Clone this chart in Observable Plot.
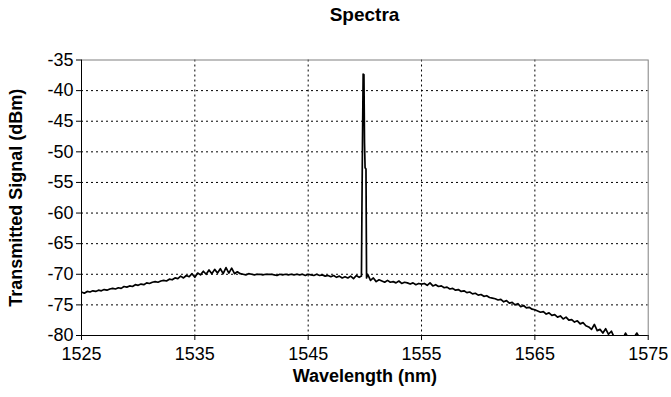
<!DOCTYPE html>
<html>
<head>
<meta charset="utf-8">
<script src="https://cdn.jsdelivr.net/npm/d3@7"></script>
<script src="https://cdn.jsdelivr.net/npm/@observablehq/plot@0.6"></script>
<style>
  html, body { margin: 0; padding: 0; background: white; }
  #title { width: 671px; height: 40px; box-sizing: border-box; padding-left: 81px; padding-right: 23px; padding-top: 5px;
    font: bold 19px "Liberation Sans", Arial, sans-serif; text-align: center; line-height: 20px; color: black; }
  svg g[aria-label="x-axis label"] text, svg g[aria-label="y-axis label"] text { font-weight: bold; }
</style>
</head>
<body>
<div id="title">Spectra</div>
<div id="chart"></div>
<script>
const xTicks = [1525, 1535, 1545, 1555, 1565, 1575];
const yTicks = [-80, -75, -70, -65, -60, -55, -50, -45, -40, -35];

const wavelength = [
  1525.0, 1525.25, 1525.5, 1525.75, 1526.0, 1526.25, 1526.5, 1526.75, 1527.0, 1527.25,
  1527.5, 1527.75, 1528.0, 1528.25, 1528.5, 1528.75, 1529.0, 1529.25, 1529.5, 1529.75,
  1530.0, 1530.25, 1530.5, 1530.75, 1531.0, 1531.25, 1531.5, 1531.75, 1532.0, 1532.25,
  1532.5, 1532.75, 1533.0, 1533.25, 1533.5, 1533.75, 1534.0, 1534.25, 1534.5, 1534.75,
  1535.0, 1535.25, 1535.5, 1535.75, 1536.0, 1536.25, 1536.5, 1536.75, 1537.0, 1537.25,
  1537.5, 1537.75, 1538.0, 1538.25, 1538.5, 1538.75, 1539.0, 1539.25, 1539.5, 1539.75,
  1540.0, 1540.25, 1540.5, 1540.75, 1541.0, 1541.25, 1541.5, 1541.75, 1542.0, 1542.25,
  1542.5, 1542.75, 1543.0, 1543.25, 1543.5, 1543.75, 1544.0, 1544.25, 1544.5, 1544.75,
  1545.0, 1545.25, 1545.5, 1545.75, 1546.0, 1546.25, 1546.5, 1546.75, 1547.0, 1547.25,
  1547.5, 1547.75, 1548.0, 1548.25, 1548.5, 1548.75, 1549.0, 1549.25, 1549.5, 1549.7,
  1549.74, 1549.79, 1549.85, 1549.92, 1549.97, 1550.02, 1550.1, 1550.15,
  1550.25, 1550.5, 1550.75, 1551.0, 1551.25, 1551.5, 1551.75, 1552.0, 1552.25, 1552.5,
  1552.75, 1553.0, 1553.25, 1553.5, 1553.75, 1554.0, 1554.25, 1554.5, 1554.75, 1555.0,
  1555.25, 1555.5, 1555.75, 1556.0, 1556.25, 1556.5, 1556.75, 1557.0, 1557.25, 1557.5,
  1557.75, 1558.0, 1558.25, 1558.5, 1558.75, 1559.0, 1559.25, 1559.5, 1559.75, 1560.0,
  1560.25, 1560.5, 1560.75, 1561.0, 1561.25, 1561.5, 1561.75, 1562.0, 1562.25, 1562.5,
  1562.75, 1563.0, 1563.25, 1563.5, 1563.75, 1564.0, 1564.25, 1564.5, 1564.75, 1565.0,
  1565.25, 1565.5, 1565.75, 1566.0, 1566.25, 1566.5, 1566.75, 1567.0, 1567.25, 1567.5,
  1567.75, 1568.0, 1568.25, 1568.5, 1568.75, 1569.0, 1569.25, 1569.5, 1569.75, 1570.0,
  1570.25, 1570.5, 1570.75, 1571.0, 1571.25, 1571.5, 1571.75, 1572.0, 1572.25, 1572.5,
  1572.75, 1573.0, 1573.25, 1573.5, 1573.75, 1574.0, 1574.25
];

const signal = [
  -72.9, -73.1, -72.8, -72.9, -72.7, -72.8, -72.6, -72.7, -72.5, -72.6,
  -72.4, -72.3, -72.4, -72.2, -72.3, -72.0, -72.1, -71.9, -72.0, -71.7,
  -71.8, -71.6, -71.7, -71.4, -71.5, -71.3, -71.2, -71.3, -71.1, -71.0,
  -71.1, -70.8, -70.9, -70.6, -70.7, -70.3, -70.6, -70.2, -70.4, -69.9,
  -70.5, -69.8, -70.1, -69.5, -70.0, -69.3, -69.9, -69.2, -69.8, -69.1,
  -69.9, -68.9, -69.8, -69.0, -69.9, -69.6, -69.9, -70.0, -70.1, -69.9,
  -70.0, -70.1, -70.0, -70.0, -70.1, -70.0, -70.0, -70.0, -70.1, -70.2,
  -70.0, -70.1, -70.0, -70.1, -70.0, -70.1, -70.0, -70.1, -70.0, -70.2,
  -70.0, -70.1, -70.2, -70.0, -70.2, -70.1, -70.3, -70.2, -70.4, -70.2,
  -70.5, -70.3, -70.6, -70.4, -70.6, -70.3, -70.7, -70.2, -70.5, -70.3,
  -60.1, -48.7, -37.3, -37.4, -48.5, -52.6, -52.8, -70.6,
  -70.0, -71.0, -70.6, -71.2, -70.9, -71.1, -71.3, -71.0, -71.3, -71.2,
  -71.4, -71.1, -71.5, -71.3, -71.4, -71.6, -71.4, -71.7, -71.5, -71.6,
  -71.5, -71.8, -71.4, -71.9, -71.7, -72.0, -71.9, -72.2, -72.1, -72.4,
  -72.3, -72.6, -72.5, -72.8, -72.7, -73.0, -72.9, -73.2, -73.1, -73.4,
  -73.3, -73.6, -73.5, -73.8, -73.9, -74.0, -74.2, -74.1, -74.5, -74.3,
  -74.7, -74.6, -75.0, -74.8, -75.3, -75.1, -75.5, -75.4, -75.7, -75.8,
  -76.0, -76.2, -76.1, -76.5, -76.3, -76.7, -76.6, -77.0, -76.8, -77.3,
  -77.0, -77.5, -77.4, -77.8, -77.6, -78.1, -77.9, -78.4, -78.6, -79.0,
  -78.2, -79.2, -79.0, -79.6, -78.9, -79.8, -79.3, -80.3, -80.5, -80.4,
  -80.6, -79.6, -80.4, -80.5, -80.3, -79.6, -80.4
];

const data = wavelength.map((w, i) => ({wavelength: w, signal: signal[i]}));

const chart = Plot.plot({
  width: 671,
  height: 357,
  marginTop: 19.5,
  marginBottom: 62,
  marginLeft: 81,
  marginRight: 23.3,
  style: {fontFamily: "'Liberation Sans', Arial, sans-serif", fontSize: "18px", color: "black", background: "white"},
  x: {domain: [1525, 1575]},
  y: {domain: [-80, -35]},
  marks: [
    Plot.gridX(xTicks.slice(1, -1), {stroke: "black", strokeOpacity: 1, strokeDasharray: "2,3"}),
    Plot.gridY(yTicks.slice(1, -1), {stroke: "black", strokeOpacity: 1, strokeDasharray: "2,3"}),
    Plot.line(data, {x: "wavelength", y: "signal", stroke: "black", strokeWidth: 1.7, clip: true}),
    Plot.frame({stroke: "#808080"}),
    Plot.ruleX([1525], {stroke: "black"}),
    Plot.ruleY([-80], {stroke: "black"}),
    Plot.axisX(xTicks, {tickSize: 5, tickPadding: 7, tickFormat: d => String(d),
      label: "Wavelength (nm)", labelAnchor: "center", labelArrow: "none", labelOffset: 46}),
    Plot.axisY(yTicks, {tickSize: 5, tickPadding: 3, tickFormat: d => String(d),
      label: "Transmitted Signal (dBm)", labelAnchor: "center", labelArrow: "none", labelOffset: 72})
  ]
});
document.getElementById("chart").appendChild(chart);
</script>
</body>
</html>
